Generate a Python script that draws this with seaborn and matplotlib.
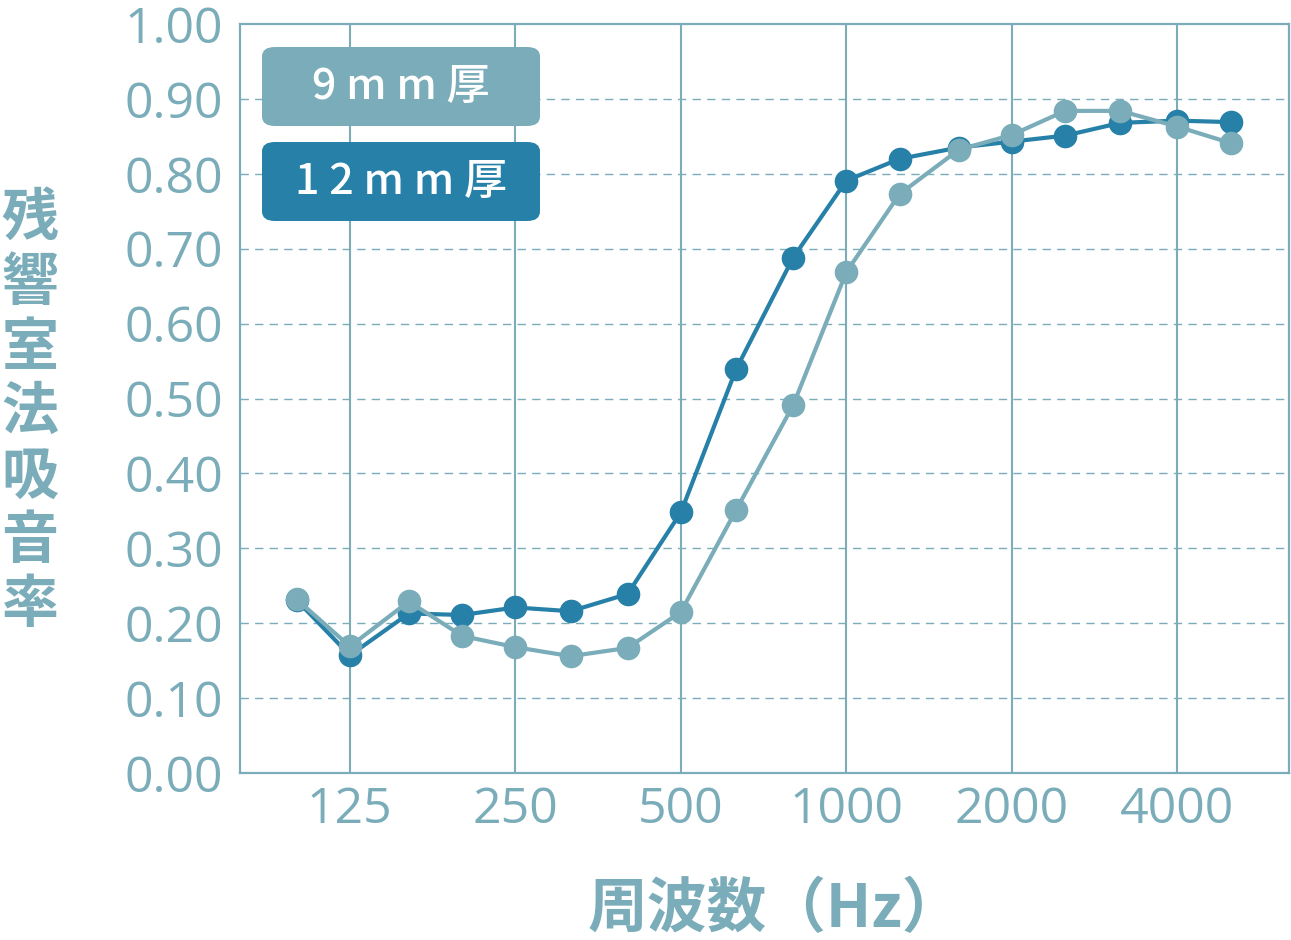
import numpy as np
import pandas as pd
import matplotlib
matplotlib.use('Agg')
import matplotlib.pyplot as plt
from matplotlib.patches import FancyBboxPatch
import seaborn as sns

# ── Data ───────────────────────────────────────────────────────────────────────
freqs = [100, 125, 160, 200, 250, 315, 400, 500, 630, 800,
         1000, 1250, 1600, 2000, 2500, 3150, 4000, 5000]
abs_12mm = [0.231, 0.157, 0.213, 0.211, 0.221, 0.216, 0.239, 0.348, 0.539, 0.688,
            0.791, 0.820, 0.835, 0.843, 0.851, 0.868, 0.871, 0.869]
abs_9mm = [0.232, 0.169, 0.229, 0.183, 0.168, 0.156, 0.167, 0.215, 0.351, 0.491,
           0.669, 0.773, 0.832, 0.852, 0.884, 0.884, 0.863, 0.841]
xticks = [125, 250, 500, 1000, 2000, 4000]
xtick_labels = ['125', '250', '500', '1000', '2000', '4000']
yticks = [0.0, 0.1, 0.2, 0.3, 0.4, 0.5, 0.6, 0.7, 0.8, 0.9, 1.0]
series_names = ['12mm厚', '9mm厚']

DARK = '#2680a8'
LIGHT = '#7aadb9'
TXT = '#7aadb9'

df = pd.DataFrame({
    'freq': freqs * 2,
    'value': abs_12mm + abs_9mm,
    'series': [series_names[0]] * len(freqs) + [series_names[1]] * len(freqs),
})

# ── Plot ───────────────────────────────────────────────────────────────────────
sns.set_style('white')
plt.rcParams['font.family'] = ['Open Sans', 'Noto Sans CJK JP', 'DejaVu Sans']

fig = plt.figure(figsize=(12.91, 9.40), dpi=100)
ax = fig.add_axes([240 / 1291, 1 - 773 / 940, (1289 - 240) / 1291, (773 - 24) / 940])

sns.lineplot(data=df, x='freq', y='value', hue='series',
             palette={series_names[0]: DARK, series_names[1]: LIGHT},
             marker='o', markersize=17, markeredgewidth=0, linewidth=3.0,
             legend=False, ax=ax, zorder=3)

ax.set_xscale('log')
ax.set_xlim(78.9, 6382)
ax.set_ylim(0, 1.0)
ax.minorticks_off()
ax.set_xticks(xticks)
ax.set_xticklabels(xtick_labels)
ax.set_yticks(yticks)
ax.set_yticklabels([f'{v:.2f}' for v in yticks])
ax.tick_params(axis='both', length=0, labelsize=36, colors=TXT)
ax.tick_params(axis='x', pad=9)
ax.tick_params(axis='y', pad=12)

for x in xticks:
    ax.axvline(x, color=LIGHT, lw=1.5, zorder=1)
for y in yticks[1:-1]:
    ax.axhline(y, color=LIGHT, lw=1.0, ls=(0, (6, 4.5)), zorder=1)

for s in ax.spines.values():
    s.set_visible(True)
    s.set_color(LIGHT)
    s.set_linewidth(1.6)

ax.set_xlabel('')
ax.set_ylabel('')

cjk = ['Noto Sans CJK JP', 'DejaVu Sans']
fig.text(775 / 1291, 1 - 910 / 940, '周波数（Hz）', fontsize=43, fontweight='bold',
         color=TXT, ha='center', va='center', family=cjk)
fig.text(30 / 1291, 1 - 412 / 940, '\n'.join('残響室法吸音率'), fontsize=41,
         fontweight='bold', color=TXT, ha='center', va='center',
         linespacing=1.14, family=cjk)

# legend boxes
boxes = [('9 m m 厚', LIGHT, 47, 126), ('1 2 m m 厚', DARK, 142, 221)]
for label, col, top, bot in boxes:
    x0 = 262 / 1291
    w = (540 - 262) / 1291
    y0 = 1 - bot / 940
    h = (bot - top) / 940
    patch = FancyBboxPatch((x0, y0), w, h, boxstyle='round,pad=0,rounding_size=0.01',
                           transform=fig.transFigure, facecolor=col, edgecolor='none',
                           zorder=5)
    fig.patches.append(patch)
    fig.text(x0 + w / 2, y0 + h / 2, label, fontsize=31, fontweight='medium',
             color='white', ha='center', va='center', zorder=6,
             family=['Noto Sans CJK JP', 'DejaVu Sans'])

fig.savefig('out.png', dpi=100, facecolor='white')
plt.close(fig)
